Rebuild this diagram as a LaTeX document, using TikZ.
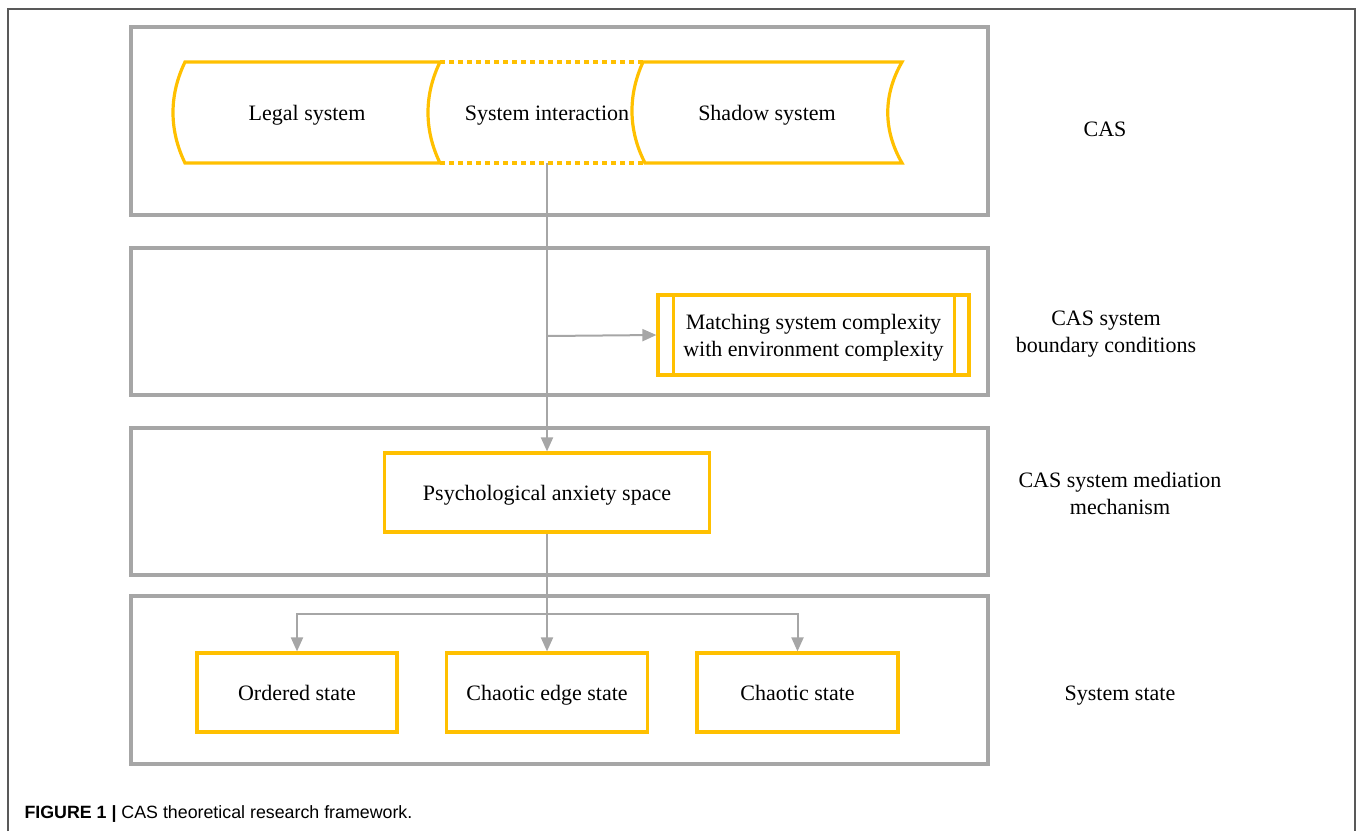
\documentclass[tikz,border=0pt]{standalone}
\usepackage{fontspec}
\setmainfont{Liberation Serif}
\newfontfamily\capfont{Liberation Sans}
\usetikzlibrary{arrows.meta,positioning,calc}
\definecolor{casyellow}{HTML}{FFC000}
\definecolor{casgray}{HTML}{A6A6A6}
\definecolor{framegray}{HTML}{595959}

\begin{document}
\begin{tikzpicture}[x=1pt, y=-1pt,
    layer/.style={draw=casgray, line width=3.4pt},
    sbox/.style={draw=casyellow, line width=3.2pt, minimum width=200pt, minimum height=79pt,
                 align=center, font=\fontsize{22}{27}\selectfont},
    sysline/.style={draw=casyellow, line width=3.2pt},
    lbl/.style={align=center, font=\fontsize{22}{27}\selectfont},
    one/.style={text height=17pt, text depth=2pt},
    link/.style={draw=casgray, line width=2pt, -{Triangle[length=14pt,width=12pt]}},
    plain/.style={draw=casgray, line width=2pt}
]
    \useasboundingbox (0,0) rectangle (1358,831);

    % Outer frame
    \draw[framegray, line width=1.6pt] (8,831) -- (8,9) -- (1355,9) -- (1355,831);

    % Layers
    \draw[layer] (131,27) rectangle (988,215);
    \draw[layer] (131,248) rectangle (988,395);
    \draw[layer] (131,428) rectangle (988,575);
    \draw[layer] (131,596) rectangle (988,764);

    % Legal and shadow systems
    \draw[sysline] (185,62) -- (440,62) .. controls (424,95) and (424,130) .. (440,163)
        -- (185,163) .. controls (169,130) and (169,95) .. (185,62) -- cycle;
    \draw[sysline] (643,62) -- (902,62) .. controls (883,95) and (883,130) .. (902,163)
        -- (645,163) .. controls (628,130) and (628,95) .. (643,62) -- cycle;
    \draw[sysline, dash pattern=on 5pt off 4pt] (440,62) -- (643,62);
    \draw[sysline, dash pattern=on 5pt off 4pt] (440,163) -- (645,163);
    \node[lbl, one] (legal) at (307,112.5) {Legal system};
    \node[lbl, one] (inter) at (547,112.5) {System interaction};
    \node[lbl, one] (shadow) at (767,112.5) {Shadow system};
    \coordinate (interS) at (547,163);

    % Boundary conditions
    \node[sbox, text depth=0pt, minimum width=311pt, minimum height=80pt] (match) at (813.5,335)
        {Matching system complexity\\with environment complexity};
    \draw[sysline] ([xshift=17pt]match.north west) -- ([xshift=17pt]match.south west);
    \draw[sysline] ([xshift=-16pt]match.north east) -- ([xshift=-16pt]match.south east);

    % Mediation
    \node[sbox, one, minimum width=325pt, minimum height=79pt] (psy) at (547,492.5) {Psychological anxiety space};

    % States
    \node[sbox, one] (ordered) at (297,692.5) {Ordered state};
    \node[sbox, one, minimum width=201pt] (edge) at (547,692.5) {Chaotic edge state};
    \node[sbox, one, minimum width=201pt] (chaos) at (797.5,692.5) {Chaotic state};

    % Right labels
    \node[lbl, one] (cas) at (1105,129) {CAS};
    \node[lbl] (bound) at (1106,334) {CAS system\\boundary conditions};
    \node[lbl] (medi) at (1120,493) {CAS system mediation\\mechanism};
    \node[lbl, one] (state) at (1120,692.5) {System state};

    % Arrows
    \coordinate (fork1) at (547,336);
    \coordinate (fork2) at (547,614);
    \draw[link] (interS) -- (psy.north);
    \draw[link] (fork1) -- (match.west);
    \draw[plain] (psy.south) -- (fork2);
    \draw[link] (fork2) -- (edge.north);
    \draw[link] (fork2) -| (ordered.north);
    \draw[link] (fork2) -| (chaos.north);

    % Caption
    \node[anchor=west, font=\capfont\fontsize{17.8}{21}\selectfont] (cap) at (21,814)
        {\textbf{FIGURE 1 |} CAS theoretical research framework.};
\end{tikzpicture}
\end{document}
